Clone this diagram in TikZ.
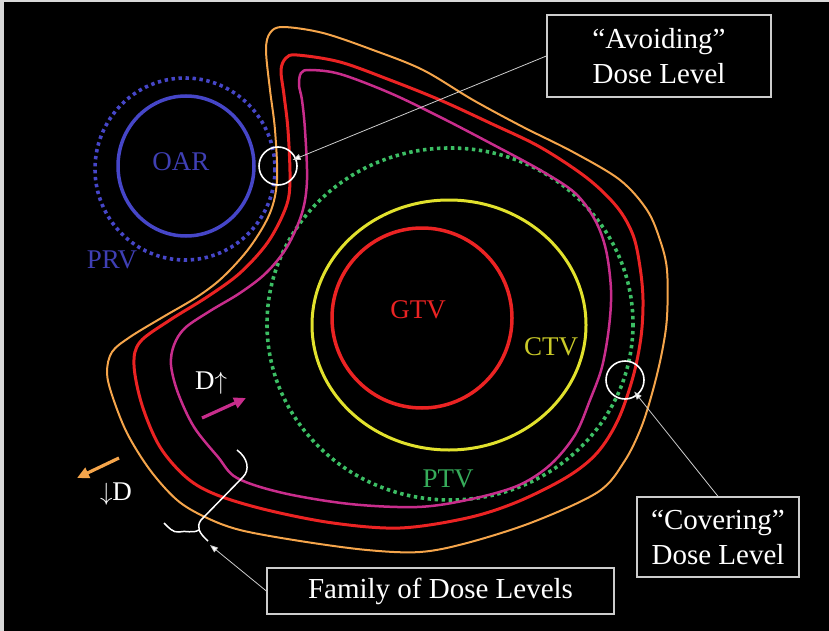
\documentclass[tikz,border=0pt]{standalone}
\usepackage{fontspec}
\setmainfont{Liberation Serif}
\usetikzlibrary{arrows.meta}
\definecolor{orangec}{RGB}{245,165,75}
\definecolor{redc}{RGB}{235,35,35}
\definecolor{magc}{RGB}{200,45,140}
\definecolor{yelc}{RGB}{225,225,45}
\definecolor{grnc}{RGB}{60,190,100}
\definecolor{bluec}{RGB}{70,70,200}
\definecolor{boxc}{RGB}{205,205,205}
\tikzset{
  box/.style={draw=boxc, line width=1.3pt, text=white, align=center, inner sep=0pt,
    font=\fontsize{29}{35}\selectfont},
  lbl/.style={inner sep=0pt, font=\fontsize{27}{30}\selectfont},
  ring/.style={draw=white, line width=1.6pt, circle, inner sep=0pt, minimum size=38pt},
  callout/.style={draw=boxc, line width=0.8pt, -{Triangle[length=8pt,width=6pt,fill=white]}},
  contour/.style={smooth cycle, tension=0.55},
  dotline/.style={line width=3.6pt, dash pattern=on 3.4pt off 3.6pt},
  fatarrow/.style={line width=3.2pt, -{Triangle[length=12pt,width=11pt]}}
}
\begin{document}
\begin{tikzpicture}[x=1pt,y=-1pt]
\useasboundingbox (0,0) rectangle (829,631);
\fill[white!85!black] (0,0) rectangle (829,631);
\fill[black] (4,2) rectangle (829,631);

% OAR / PRV
\draw[bluec, line width=3.5pt] (186,166) ellipse [x radius=68, y radius=70];
\draw[bluec, dotline] (185,169) ellipse [x radius=90, y radius=91];
\node[lbl, text=bluec!90!black] (oar) at (181,162) {OAR};
\node[lbl, text=bluec!90!black] (prv) at (112,260) {PRV};

% targets
\draw[grnc, dotline] (450,324) ellipse [x radius=183, y radius=176];
\draw[yelc, line width=3pt] (449,325) ellipse [x radius=137, y radius=125];
\draw[redc, line width=3.5pt] (422,318) ellipse [x radius=90, y radius=90];
\node[lbl, text=redc] (gtv) at (418,310) {GTV};
\node[lbl, text=yelc!90!black] (ctv) at (551,347) {CTV};
\node[lbl, text=grnc!90!black] (ptv) at (448,479) {PTV};

% dose contours
\draw[orangec, line width=2pt] plot[contour] coordinates {
 (266,50) (270,33) (283,27) (323,33) (373,50) (423,70) (473,100) (523,127) (573,152)
 (620,180) (647,210) (660,240) (667,270) (667,317) (662,352) (653,390) (641,428)
 (624,462) (598,492) (533,522) (467,543) (420,552) (367,550) (300,541) (240,530)
 (205,517) (177,500) (150,470) (127,433) (112,395) (107,372) (112,352) (130,337)
 (163,317) (197,297) (223,277) (250,247) (270,213) (277,180) (275,130) (270,90)};
\draw[redc, line width=3pt] plot[contour] coordinates {
 (281,70) (286,58) (297,55) (340,62) (390,80) (440,100) (490,123) (540,147) (587,178)
 (617,207) (633,235) (640,267) (643,300) (641,337) (633,377) (618,420) (597,453)
 (567,477) (517,502) (467,518) (400,528) (333,523) (267,510) (217,495) (187,478)
 (160,447) (142,405) (134,365) (140,342) (170,320) (207,297) (240,273) (268,242)
 (286,207) (290,180) (288,130) (284,95)};
\draw[magc, line width=2.5pt] plot[contour] coordinates {
 (299,85) (301,73) (310,70) (340,74) (390,93) (440,117) (490,143) (540,170) (575,193)
 (595,220) (606,250) (611,290) (609,327) (602,367) (590,400) (575,435) (550,465)
 (517,486) (467,500) (417,507) (350,504) (283,493) (237,478) (218,457) (194,427)
 (178,393) (171,365) (174,345) (185,328) (210,311) (240,293) (266,273) (287,247)
 (302,213) (307,180) (305,130) (302,100)};

% direction arrows
\coordinate (mA) at (202,418);
\coordinate (mB) at (246,398);
\draw[magc, fatarrow] (mA) -- (mB);
\coordinate (oA) at (119,458);
\coordinate (oB) at (77,478);
\draw[orangec, fatarrow] (oA) -- (oB);
\node[lbl, text=white] (dup) at (211,383) {D$\uparrow$};
\node[lbl, text=white] (ddown) at (116,494) {$\downarrow$D};

% family bracket
\draw[white, line width=1.5pt]
  (237,450) .. controls (248,458) and (250,470) .. (243,477)
  -- (201,520) .. controls (196,527) and (199,533) .. (208,541);
\draw[white, line width=1.5pt]
  (199,530) .. controls (192,534) and (186,530) .. (179,532)
  .. controls (173,533) and (168,527) .. (164,523);

% callouts
\node[ring] (avc) at (278,166) {};
\node[ring] (cvc) at (625,380) {};
\node[box, minimum width=224pt, minimum height=82pt] (avoid) at (659,56) {“Avoiding”\\Dose Level};
\node[box, minimum width=162pt, minimum height=80pt] (cover) at (718,537) {“Covering”\\Dose Level};
\node[box, minimum width=347pt, minimum height=46pt] (family) at (440.5,591) {Family of Dose Levels};
\coordinate (famtip) at (210,545);
\draw[callout, shorten >=-4pt] (avoid.west) -- (avc);
\draw[callout, shorten >=-5pt] (cover.north) -- (cvc);
\draw[callout] (family.west) -- (famtip);
\end{tikzpicture}
\end{document}
